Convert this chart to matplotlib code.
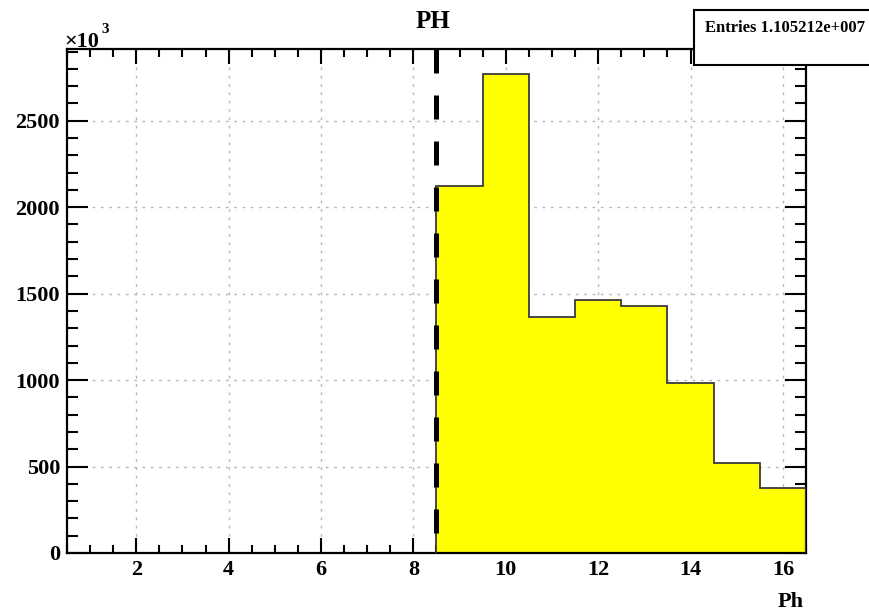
import numpy as np
import matplotlib
matplotlib.use("Agg")
import matplotlib.pyplot as plt
from matplotlib.ticker import MultipleLocator
from matplotlib.patches import Rectangle

# ── Dati (conteggi in unità di 10^3) ─────────────────────────────────────────
bin_edges = [8.5, 9.5, 10.5, 11.5, 12.5, 13.5, 14.5, 15.5, 16.5]
counts    = [2123, 2773, 1366, 1466, 1430, 983, 522, 377]
x_range   = (0.5, 16.5)
y_max     = 2915
cut_x     = 8.5
title     = "PH"
x_label   = "Ph"
entries   = "Entries 1.105212e+007"

FONT = "Liberation Serif"
FS   = 16
W, H = 870, 611

fig = plt.figure(figsize=(W / 100, H / 100), dpi=100)
ax = fig.add_axes([67 / W, 1 - 553 / H, (806 - 67) / W, (553 - 49) / H])

# griglia puntinata
GRID = dict(color="#b8b8b8", lw=1.0, ls=(0, (2, 4)), zorder=0)
for x in range(2, 17, 2):
    ax.axvline(x, **GRID)
for y in range(500, 3000, 500):
    ax.axhline(y, **GRID)

# istogramma
ax.stairs(counts, bin_edges, fill=True, color="#ffff00", zorder=2)
ax.stairs(counts, bin_edges, fill=False, color="#3a3a3a", lw=1.3, zorder=3)

# linea tratteggiata del taglio
ax.plot([cut_x, cut_x], [y_max, 0], color="black", lw=3.6,
        dashes=(4.8, 4.4), zorder=4, solid_capstyle="butt")

ax.set_xlim(*x_range)
ax.set_ylim(0, y_max)

ax.xaxis.set_major_locator(MultipleLocator(2))
ax.xaxis.set_minor_locator(MultipleLocator(0.5))
ax.yaxis.set_major_locator(MultipleLocator(500))
ax.yaxis.set_minor_locator(MultipleLocator(100))

ax.tick_params(axis="both", which="both", direction="in",
               top=True, right=True, width=1.5, color="black")
ax.tick_params(axis="x", which="major", length=11, pad=5)
ax.tick_params(axis="x", which="minor", length=6)
ax.tick_params(axis="y", which="major", length=15, pad=5)
ax.tick_params(axis="y", which="minor", length=8)

for lab in ax.get_xticklabels() + ax.get_yticklabels():
    lab.set_fontfamily(FONT)
    lab.set_fontweight("bold")
    lab.set_fontsize(FS)

for sp in ax.spines.values():
    sp.set_linewidth(1.6)

# ×10^3
fig.text(64 / W, 1 - 47 / H, "×10", family=FONT, weight="bold",
         fontsize=FS, ha="left", va="baseline")
fig.text(101 / W, 1 - 33 / H, "3", family=FONT, weight="bold",
         fontsize=11, ha="left", va="baseline")

# titolo ed etichetta asse x
fig.text(433 / W, 1 - 21 / H, title, family=FONT, weight="bold",
         fontsize=18, ha="center", va="center")
fig.text(804 / W, 1 - 602 / H, x_label, family=FONT, weight="bold",
         fontsize=FS, ha="right", va="center")

# riquadro statistiche
fig.patches.append(Rectangle((694 / W, 1 - 65 / H), 200 / W, 55 / H,
                             transform=fig.transFigure, facecolor="white",
                             edgecolor="black", lw=1.5, zorder=5))
fig.text(705 / W, 1 - 28 / H, entries, family=FONT, weight="bold",
         fontsize=12, ha="left", va="center", zorder=6)

fig.savefig("out.png", dpi=100)
